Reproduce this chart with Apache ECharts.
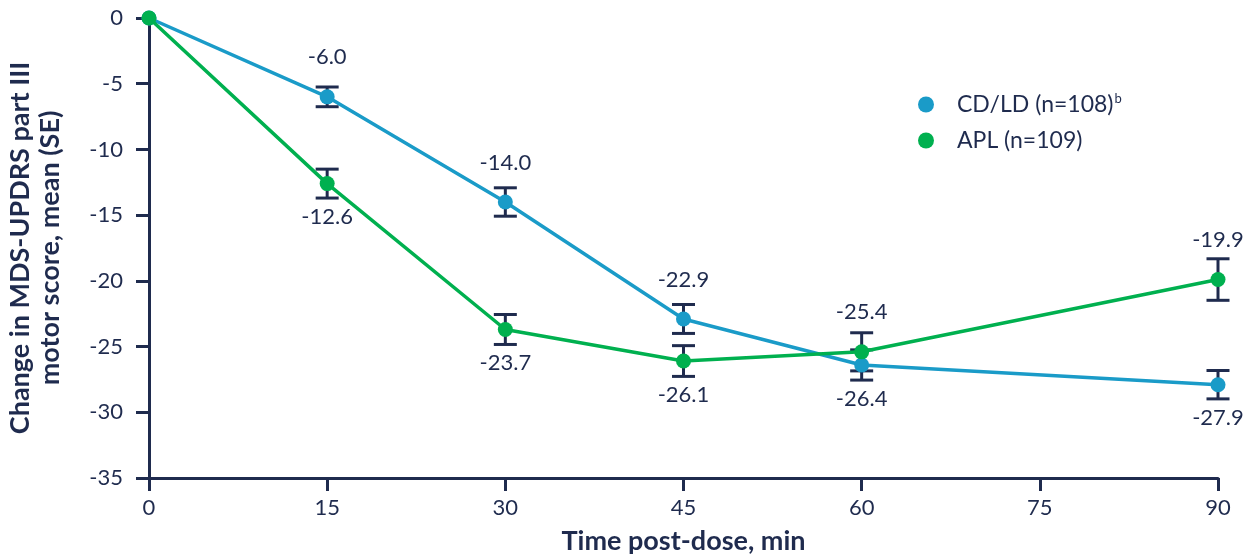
<!DOCTYPE html>
<html>
<head>
<meta charset="utf-8">
<script src="https://cdn.jsdelivr.net/npm/echarts@6/dist/echarts.min.js"></script>
<style>
  html, body { margin: 0; padding: 0; background: #fff; }
  #chart { width: 1253px; height: 557px; }
</style>
</head>
<body>
<div id="chart"></div>
<script>
// Time points (min post-dose)
const timePoints = [0, 15, 30, 45, 60, 90];

// Mean change in MDS-UPDRS part III motor score
const cdldMean = [0, -6.0, -14.0, -22.9, -26.4, -27.9];
const aplMean  = [0, -12.6, -23.7, -26.1, -25.4, -19.9];

// Standard errors (null = no bar drawn)
const cdldSE = [null, 0.75, 1.08, 1.1, 1.15, 1.08];
const aplSE  = [null, 1.1, 1.14, 1.17, 1.45, 1.58];

// Value label placement per point
const cdldLabelPos = ['none', 'top', 'top', 'top', 'bottom', 'bottom'];
const aplLabelPos  = ['none', 'bottom', 'bottom', 'bottom', 'top', 'top'];

const yTicks = [0, -5, -10, -15, -20, -25, -30, -35];
const xTicks = [0, 15, 30, 45, 60, 75, 90];

const NAVY = '#1f2b4e';
const BLUE = '#1a9bc8';
const GREEN = '#00b04f';
const FONT = 'Lato, "Open Sans", sans-serif';

function pointData(means, positions) {
  return timePoints.map((t, i) => {
    const pos = positions[i];
    const item = { value: [t, means[i]] };
    if (pos === 'none') {
      item.label = { show: false };
    } else {
      item.label = { show: true, position: pos, distance: pos === 'top' ? 21 : 15 };
    }
    return item;
  });
}

function errorData(means, se) {
  const out = [];
  timePoints.forEach((t, i) => {
    if (se[i] != null) out.push([t, means[i] - se[i], means[i] + se[i]]);
  });
  return out;
}

function renderErrorBar(params, api) {
  const x = api.value(0);
  const lo = api.coord([x, api.value(1)]);
  const hi = api.coord([x, api.value(2)]);
  const half = 11.5;
  const style = { stroke: NAVY, lineWidth: 3, fill: null };
  return {
    type: 'group',
    children: [
      { type: 'line', shape: { x1: lo[0], y1: lo[1], x2: hi[0], y2: hi[1] }, style },
      { type: 'line', shape: { x1: lo[0] - half, y1: lo[1], x2: lo[0] + half, y2: lo[1] }, style },
      { type: 'line', shape: { x1: hi[0] - half, y1: hi[1], x2: hi[0] + half, y2: hi[1] }, style }
    ]
  };
}

const chart = echarts.init(document.getElementById('chart'), null, { renderer: 'canvas' });

const valueLabel = {
  show: true,
  color: NAVY,
  fontSize: 22,
  fontFamily: FONT,
  formatter: p => p.value[1].toFixed(1)
};

chart.setOption({
  animation: false,
  backgroundColor: '#ffffff',
  textStyle: { fontFamily: FONT },
  grid: { left: 149, right: 35, top: 18, bottom: 79, containLabel: false, outerBoundsMode: 'none' },
  legend: {
    orient: 'vertical',
    left: 913,
    top: 87,
    padding: 5,
    itemWidth: 16,
    itemHeight: 16,
    itemGap: 13,
    icon: 'circle',
    data: ['CD/LD', 'APL'],
    formatter: name => name === 'CD/LD' ? 'CD/LD (n=108){sup|b}' : 'APL (n=109)',
    textStyle: {
      color: NAVY,
      fontSize: 23,
      fontFamily: FONT,
      padding: [0, 0, 0, 18],
      rich: {
        sup: { fontSize: 13, color: NAVY, fontFamily: FONT, verticalAlign: 'top', padding: [0, 0, 12, 1] }
      }
    }
  },
  xAxis: {
    type: 'value',
    min: 0,
    max: 90,
    interval: 15,
    name: 'Time post-dose, min',
    nameLocation: 'middle',
    nameGap: 50,
    nameTextStyle: { color: NAVY, fontSize: 27, fontWeight: 'bold', fontFamily: FONT },
    axisLine: { onZero: false, lineStyle: { color: NAVY, width: 3 } },
    axisTick: { show: true, length: 13, lineStyle: { color: NAVY, width: 3 } },
    axisLabel: {
      color: NAVY, fontSize: 22, fontFamily: FONT, margin: 19,
      customValues: xTicks
    },
    splitLine: { show: false }
  },
  yAxis: {
    type: 'value',
    min: -35,
    max: 0,
    interval: 5,
    name: 'Change in MDS-UPDRS part III\nmotor score, mean (SE)',
    nameLocation: 'middle',
    nameGap: 84,
    nameRotate: 90,
    nameTextStyle: { color: NAVY, fontSize: 27, fontWeight: 'bold', fontFamily: FONT, lineHeight: 30 },
    axisLine: { show: true, onZero: false, lineStyle: { color: NAVY, width: 3 } },
    axisTick: { show: true, length: 13, lineStyle: { color: NAVY, width: 3 } },
    axisLabel: {
      color: NAVY, fontSize: 22, fontFamily: FONT, margin: 26,
      customValues: yTicks
    },
    splitLine: { show: false }
  },
  series: [
    {
      name: 'CD/LD SE',
      type: 'custom',
      renderItem: renderErrorBar,
      data: errorData(cdldMean, cdldSE),
      encode: { x: 0, y: [1, 2] },
      z: 1,
      silent: true
    },
    {
      name: 'APL SE',
      type: 'custom',
      renderItem: renderErrorBar,
      data: errorData(aplMean, aplSE),
      encode: { x: 0, y: [1, 2] },
      z: 1,
      silent: true
    },
    {
      name: 'CD/LD',
      type: 'line',
      data: pointData(cdldMean, cdldLabelPos),
      symbol: 'circle',
      symbolSize: 15,
      itemStyle: { color: BLUE },
      lineStyle: { color: BLUE, width: 3.5 },
      label: valueLabel,
      z: 3
    },
    {
      name: 'APL',
      type: 'line',
      data: pointData(aplMean, aplLabelPos),
      symbol: 'circle',
      symbolSize: 15,
      itemStyle: { color: GREEN },
      lineStyle: { color: GREEN, width: 3.5 },
      label: valueLabel,
      z: 4
    }
  ]
});
</script>
</body>
</html>
